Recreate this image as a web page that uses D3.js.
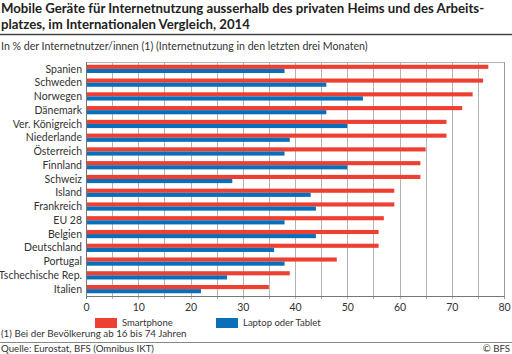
<!DOCTYPE html>
<html>
<head>
<meta charset="utf-8">
<script src="https://cdnjs.cloudflare.com/ajax/libs/d3/7.8.5/d3.min.js"></script>
<style>
  body { margin: 0; background: #fff; }
  svg { display: block; font-family: "Lato", "Open Sans", sans-serif; }
</style>
</head>
<body>
<svg id="chart" width="512" height="354"></svg>
<script>
// Länder (von oben nach unten)
var countries = [ "Spanien", "Schweden", "Norwegen", "Dänemark", "Ver. Königreich",
    "Niederlande", "Österreich", "Finnland", "Schweiz", "Island", "Frankreich",
    "EU 28", "Belgien", "Deutschland", "Portugal", "Tschechische Rep.", "Italien" ];
var smartphone = [ 77, 76, 74, 72, 69, 69, 65, 64, 64, 59, 59, 57, 56, 56, 48, 39, 35 ];
var laptop     = [ 38, 46, 53, 46, 50, 39, 38, 50, 28, 43, 44, 38, 44, 36, 38, 27, 22 ];
var seriesNames = [ "Smartphone", "Laptop oder Tablet" ];
var xTicks = [ 0, 10, 20, 30, 40, 50, 60, 70, 80 ];

var RED = "#ee3f33", BLUE = "#0a6fba", TXT = "#333";

var svg = d3.select( "#chart" );
var pLeft = 86, pRight = 504, pTop = 62, pBottom = 296;

var x = d3.scaleLinear().domain( [ 0, 80 ] ).range( [ pLeft, pRight ] );
var y = d3.scaleBand().domain( countries ).range( [ pTop, pBottom ] ).paddingInner( 0.4 ).paddingOuter( 0.2 );
var sub = d3.scaleBand().domain( [ 0, 1 ] ).range( [ 0, y.bandwidth() ] );

// title
svg.append( "text" ).attr( "x", 1 ).attr( "y", 13 )
  .style( "font-size", "13.2px" ).style( "font-weight", "bold" ).attr( "fill", "#222" )
  .text( "Mobile Geräte für Internetnutzung ausserhalb des privaten Heims und des Arbeits-" );
svg.append( "text" ).attr( "x", 1 ).attr( "y", 29 )
  .style( "font-size", "13.2px" ).style( "font-weight", "bold" ).attr( "fill", "#222" )
  .text( "platzes, im Internationalen Vergleich, 2014" );
svg.append( "line" ).attr( "x1", 0 ).attr( "x2", 512 ).attr( "y1", 34.5 ).attr( "y2", 34.5 )
  .attr( "stroke", "#444" ).attr( "stroke-width", 1.5 );
svg.append( "text" ).attr( "x", 1 ).attr( "y", 50 )
  .style( "font-size", "10.6px" ).attr( "fill", TXT )
  .text( "In % der Internetnutzer/innen (1) (Internetnutzung in den letzten drei Monaten)" );

// grid every 5
var grid = d3.range( 5, 80, 5 );
svg.append( "g" ).selectAll( "line" ).data( grid ).join( "line" )
  .attr( "x1", function( d ) { return Math.round( x( d ) ) + 0.5; } )
  .attr( "x2", function( d ) { return Math.round( x( d ) ) + 0.5; } )
  .attr( "y1", pTop ).attr( "y2", pBottom + 3 )
  .attr( "stroke", "#b4b4b4" ).attr( "stroke-width", 1 );

// frame
svg.append( "line" ).attr( "x1", pLeft ).attr( "x2", pRight ).attr( "y1", pTop + 0.5 ).attr( "y2", pTop + 0.5 )
  .attr( "stroke", "#b4b4b4" );
svg.append( "line" ).attr( "x1", pRight + 0.5 ).attr( "x2", pRight + 0.5 ).attr( "y1", pTop ).attr( "y2", pBottom + 3 )
  .attr( "stroke", "#999" );

// bars
var rows = svg.append( "g" ).selectAll( "g" ).data( countries ).join( "g" )
  .attr( "transform", function( d ) { return "translate(0," + y( d ) + ")"; } );
rows.append( "rect" )
  .attr( "x", x( 0 ) ).attr( "y", sub( 0 ) )
  .attr( "width", function( d, i ) { return x( smartphone[ i ] ) - x( 0 ); } )
  .attr( "height", sub.bandwidth() ).attr( "fill", RED );
rows.append( "rect" )
  .attr( "x", x( 0 ) ).attr( "y", sub( 1 ) )
  .attr( "width", function( d, i ) { return x( laptop[ i ] ) - x( 0 ); } )
  .attr( "height", sub.bandwidth() ).attr( "fill", BLUE );

// category labels
svg.append( "g" ).selectAll( "text" ).data( countries ).join( "text" )
  .attr( "x", pLeft - 4 )
  .attr( "y", function( d ) { return y( d ) + y.bandwidth() / 2; } )
  .attr( "dy", "0.35em" ).attr( "text-anchor", "end" )
  .style( "font-size", "10.5px" ).attr( "fill", TXT )
  .text( function( d ) { return d; } );

// axes lines
svg.append( "line" ).attr( "x1", pLeft + 0.5 ).attr( "x2", pLeft + 0.5 ).attr( "y1", pTop ).attr( "y2", pBottom + 3 )
  .attr( "stroke", "#777" );
var xAxis = d3.axisBottom( x ).tickValues( xTicks ).tickSize( 0 ).tickPadding( 8 );
var ax = svg.append( "g" ).attr( "transform", "translate(0," + pBottom + ")" ).call( xAxis );
ax.select( ".domain" ).attr( "stroke", "#777" );
ax.selectAll( "text" ).style( "font-size", "10.5px" ).style( "font-family", "Lato, sans-serif" ).attr( "fill", TXT );

// legend
var leg = svg.append( "g" );
var legX = [ 95, 216 ];
seriesNames.forEach( function( name, i ) {
    leg.append( "rect" ).attr( "x", legX[ i ] ).attr( "y", 318 ).attr( "width", 22 ).attr( "height", 10 )
      .attr( "fill", i == 0 ? RED : BLUE );
    leg.append( "text" ).attr( "x", legX[ i ] + 27 ).attr( "y", 323 ).attr( "dy", "0.35em" )
      .style( "font-size", "9.5px" ).attr( "fill", TXT ).text( name );
});

// footnotes
svg.append( "text" ).attr( "x", 1 ).attr( "y", 337 )
  .style( "font-size", "9.8px" ).attr( "fill", TXT )
  .text( "(1) Bei der Bevölkerung ab 16 bis 74 Jahren" );
svg.append( "line" ).attr( "x1", 0 ).attr( "x2", 512 ).attr( "y1", 342.5 ).attr( "y2", 342.5 )
  .attr( "stroke", "#888" ).attr( "stroke-width", 1.2 );
svg.append( "text" ).attr( "x", 1 ).attr( "y", 352 )
  .style( "font-size", "9.7px" ).attr( "fill", TXT )
  .text( "Quelle: Eurostat, BFS (Omnibus IKT)" );
svg.append( "text" ).attr( "x", 510 ).attr( "y", 352 ).attr( "text-anchor", "end" )
  .style( "font-size", "9.7px" ).attr( "fill", TXT )
  .text( "© BFS" );
</script>
</body>
</html>
